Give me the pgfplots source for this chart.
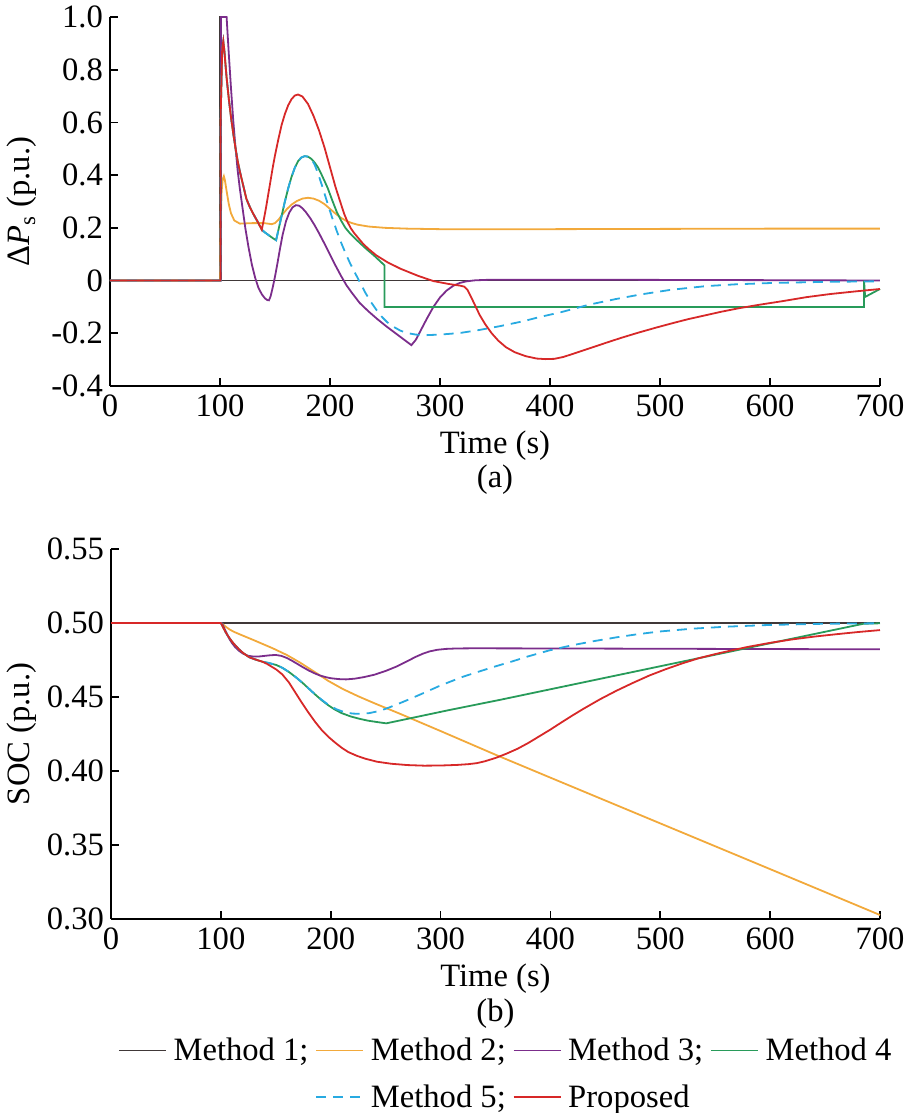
\documentclass[border=0pt]{standalone}
\usepackage{fontspec}
\setmainfont{Liberation Serif}
\usepackage{pgfplots}
\pgfplotsset{compat=1.18}
\definecolor{cMa}{RGB}{64,56,56}
\definecolor{cMb}{RGB}{242,169,59}
\definecolor{cMc}{RGB}{123,45,139}
\definecolor{cMd}{RGB}{40,155,90}
\definecolor{cMe}{RGB}{40,170,225}
\definecolor{cMf}{RGB}{215,40,40}
\newcommand{\fs}{\fontsize{16.3}{19.5}\selectfont}
\pgfplotsset{
  myaxis/.style={
    scale only axis,
    axis x line*=bottom, axis y line*=left,
    axis line style={-, line width=0.9pt, black},
    tick align=inside, major tick length=4pt,
    tick style={black, line width=0.9pt},
    xmin=0, xmax=700,
    xtick={0,100,200,300,400,500,600,700},
    xticklabels={0,100,200,300,400,500,600,700},
    tick label style={font=\fs},
    xticklabel style={yshift=-0.8pt},
    label style={font=\fs},
    clip=false,
    every axis plot/.append style={line width=0.9pt},
    xlabel={Time (s)},
    xlabel style={at={(axis description cs:0.5,0)}, anchor=base, yshift=-34pt},
  }
}
\begin{document}
\begin{tikzpicture}
\path[use as bounding box] (0,0) rectangle (453pt,556.5pt);
% ---------------- (a) ----------------
\begin{axis}[myaxis, at={(55pt,363.5pt)}, anchor=south west,
  width=385pt, height=184.5pt,
  ymin=-0.4, ymax=1.0,
  ytick={-0.4,-0.2,0,0.2,0.4,0.6,0.8,1.0},
  yticklabels={-0.4,-0.2,0,0.2,0.4,0.6,0.8,1.0},
  ylabel={Δ\textit{P}\textsubscript{s} (p.u.)},
  ylabel style={at={(axis description cs:-0.1143,0.5)}, anchor=center},
]
% Method 1
\addplot[cMa] coordinates {(0,0)(100,0)(100,1.0)(101,1.0)(101,0)(700,0)};
% Method 2
\addplot[cMb] coordinates {(0,0)(100,0)(100.5,0.2)(101.5,0.34)(102.5,0.385)(103.5,0.396)(104.5,0.38)(106,0.34)(108,0.29)(110,0.255)(113,0.228)(118,0.216)(130,0.218)(140,0.218)(147,0.214)(150,0.218)(153,0.23)(157,0.252)(161,0.272)(165,0.288)(170,0.302)(175,0.311)(180,0.314)(185,0.311)(190,0.303)(195,0.29)(200,0.272)(205,0.254)(210,0.238)(215,0.226)(220,0.218)(225,0.212)(235,0.205)(250,0.2)(270,0.197)(300,0.195)(400,0.195)(500,0.196)(600,0.197)(700,0.197)};
% Method 3
\addplot[cMc] coordinates {(0,0)(101,0)(101,1.0)(106,1.0)(107,0.93)(108,0.86)(110,0.73)(112,0.61)(114,0.51)(116,0.42)(118,0.35)(120,0.29)(123,0.2)(126,0.125)(129,0.06)(132,0.01)(135,-0.028)(138,-0.052)(141,-0.068)(143,-0.074)(144.5,-0.075)(146,-0.06)(148,-0.025)(150,0.015)(152,0.06)(154.5,0.12)(157,0.175)(160,0.225)(163,0.258)(166,0.278)(169,0.286)(172,0.284)(175,0.274)(178,0.26)(182,0.237)(186,0.21)(190,0.18)(195,0.14)(200,0.098)(205,0.057)(210,0.018)(215,-0.018)(220,-0.047)(227,-0.085)(235,-0.117)(243,-0.146)(251,-0.173)(258,-0.195)(266,-0.22)(274,-0.245)(278,-0.225)(283,-0.185)(288,-0.145)(294,-0.1)(300,-0.064)(306,-0.038)(312,-0.02)(318,-0.009)(324,-0.003)(332,0.001)(345,0.003)(450,0.003)(550,0.002)(650,0.001)(700,0)};
% Method 4
\addplot[cMd] coordinates {(0,0)(100.5,0)(100.5,0.6)(102,0.88)(103,0.908)(104,0.87)(105,0.82)(106,0.77)(108,0.69)(110,0.62)(112,0.56)(114,0.505)(116,0.455)(118,0.415)(120,0.38)(122,0.345)(124,0.31)(127,0.28)(130,0.255)(134,0.225)(138,0.193)(141,0.182)(145,0.17)(148,0.161)(151,0.153)(153,0.19)(156,0.245)(159,0.3)(162,0.35)(165,0.393)(168,0.428)(171,0.453)(174,0.467)(177,0.472)(180,0.47)(183,0.462)(186,0.448)(189,0.43)(192,0.405)(195,0.378)(198,0.35)(202,0.305)(206,0.262)(210,0.228)(214,0.2)(218,0.18)(222,0.163)(227,0.143)(233,0.12)(240,0.095)(249.5,0.058)(249.5,-0.1)(685.5,-0.1)(685.5,0.0)(686.5,-0.062)(700,-0.032)};
% Method 5
\addplot[cMe, dash pattern=on 5pt off 3.5pt] coordinates {(0,0)(100.5,0)(100.5,0.6)(102,0.88)(103,0.908)(104,0.87)(105,0.82)(106,0.77)(108,0.69)(110,0.62)(112,0.56)(114,0.505)(116,0.455)(118,0.415)(120,0.38)(122,0.345)(124,0.31)(127,0.28)(130,0.255)(134,0.225)(138,0.193)(141,0.182)(145,0.17)(148,0.161)(151,0.153)(153,0.19)(156,0.245)(159,0.3)(162,0.35)(165,0.393)(168,0.428)(171,0.453)(174,0.467)(177,0.472)(180,0.47)(183,0.462)(186,0.44)(189,0.408)(192,0.37)(195,0.33)(198,0.29)(202,0.238)(206,0.19)(210,0.145)(214,0.105)(218,0.068)(222,0.035)(227,-0.005)(232,-0.045)(237,-0.08)(242,-0.11)(247,-0.137)(252,-0.158)(258,-0.176)(264,-0.19)(270,-0.199)(278,-0.205)(288,-0.207)(300,-0.205)(318,-0.199)(335,-0.188)(354.5,-0.173)(375,-0.155)(391,-0.138)(410,-0.12)(436,-0.091)(460,-0.07)(482,-0.053)(510,-0.035)(542,-0.021)(570,-0.014)(603,-0.009)(650,-0.005)(694,-0.003)(700,-0.003)};
% Proposed
\addplot[cMf] coordinates {(0,0)(100.5,0)(100.5,0.6)(102,0.88)(103,0.908)(104,0.87)(105,0.82)(106,0.77)(108,0.69)(110,0.62)(112,0.56)(114,0.505)(116,0.455)(118,0.415)(120,0.38)(122,0.345)(124,0.31)(127,0.28)(130,0.255)(134,0.225)(138,0.193)(140,0.235)(142,0.28)(144,0.33)(146,0.38)(148,0.43)(150,0.475)(153,0.535)(156,0.59)(159,0.632)(162,0.665)(165,0.688)(168,0.702)(171,0.706)(175,0.698)(180,0.67)(185,0.625)(190,0.57)(195,0.505)(200,0.43)(205,0.355)(210,0.29)(213,0.252)(216,0.222)(219,0.198)(222,0.18)(226,0.16)(230,0.14)(235,0.12)(242,0.096)(252,0.07)(264,0.045)(280,0.018)(294,-0.002)(308,-0.013)(318,-0.019)(322,-0.023)(325,-0.035)(328,-0.06)(332,-0.095)(336,-0.13)(341,-0.165)(347,-0.2)(353,-0.228)(360,-0.253)(368,-0.272)(378,-0.287)(388,-0.296)(396,-0.298)(404,-0.297)(412,-0.29)(421,-0.278)(436,-0.257)(451,-0.236)(465,-0.217)(480,-0.198)(496,-0.179)(512,-0.161)(526,-0.146)(540,-0.133)(556,-0.118)(573,-0.104)(590,-0.092)(610,-0.079)(633,-0.063)(655,-0.051)(678,-0.041)(700,-0.032)};
\node[anchor=base, font=\fs, yshift=-51pt] at (axis description cs:0.5,0) {(a)};
\end{axis}
% ---------------- (b) ----------------
\begin{axis}[myaxis, at={(55.5pt,97pt)}, anchor=south west,
  width=384.5pt, height=185pt,
  ymin=0.3, ymax=0.55,
  ytick={0.3,0.35,0.4,0.45,0.5,0.55},
  yticklabels={0.30,0.35,0.40,0.45,0.50,0.55},
  ylabel={SOC (p.u.)},
  ylabel style={at={(axis description cs:-0.1157,0.5)}, anchor=center},
  legend columns=4, legend cell align=left,
  legend style={draw=none, fill=none, font=\fs, at={(axis description cs:0.0091,-0.310)}, anchor=north west, inner sep=0pt, outer sep=0pt, row sep=6.6pt, column sep=1.4pt, nodes={inner sep=2pt}},
  legend image code/.code={\draw[#1, line width=0.9pt] (0pt,0pt) -- (23.5pt,0pt);},
]
\addlegendimage{color=cMa}
\addlegendentry{Method 1;}
\addlegendimage{color=cMb}
\addlegendentry{Method 2;}
\addlegendimage{color=cMc}
\addlegendentry{Method 3;}
\addlegendimage{color=cMd}
\addlegendentry{Method 4}
\addlegendimage{empty legend}
\addlegendentry{}
\addlegendimage{color=cMe, dash pattern=on 5pt off 3.5pt}
\addlegendentry{Method 5;}
\addlegendimage{color=cMf}
\addlegendentry{Proposed}
% Method 1
\addplot[cMa, forget plot] coordinates {(0,0.5)(700,0.5)};
% Method 2
\addplot[cMb, forget plot] coordinates {(0,0.5)(100,0.5)(101,0.4996)(103,0.4984)(105,0.4972)(108,0.4956)(112,0.494)(118,0.4921)(130,0.4884)(147,0.483)(160,0.4784)(172,0.4733)(185,0.4671)(198,0.4608)(211,0.4554)(225,0.4505)(240,0.4457)(262,0.439)(300,0.427)(350,0.411)(400,0.3955)(500,0.3646)(600,0.3337)(700,0.3027)};
% Method 3
\addplot[cMc, forget plot] coordinates {(0,0.5)(100,0.5)(101,0.4998)(103,0.4966)(106,0.4919)(108,0.489)(110,0.4866)(113,0.4837)(116,0.4815)(120,0.4794)(125,0.4778)(130,0.4773)(135,0.4774)(140,0.4778)(145,0.4782)(150,0.4784)(155,0.4778)(160,0.4764)(165,0.4744)(170,0.4722)(175,0.47)(180,0.4679)(185,0.4661)(190,0.4646)(195,0.4635)(200,0.4627)(207,0.4621)(214,0.4619)(222,0.4624)(230,0.4634)(240,0.4651)(250,0.4676)(260,0.4706)(270,0.4743)(277,0.477)(284,0.4793)(290,0.4808)(297,0.4819)(305,0.4825)(315,0.4828)(330,0.4829)(400,0.4828)(550,0.4825)(700,0.4822)};
% Method 4
\addplot[cMd, forget plot] coordinates {(0,0.5)(100,0.5)(102,0.4972)(104,0.4943)(106,0.4918)(108,0.4896)(110,0.4876)(112,0.4858)(114,0.4842)(116,0.4826)(118,0.4812)(120,0.4799)(123,0.4783)(126,0.4768)(132,0.4752)(138,0.4738)(144,0.4729)(150.6,0.4716)(156,0.4697)(162,0.4669)(168,0.4635)(174,0.4598)(180,0.4557)(186,0.4516)(192,0.4477)(198,0.4443)(204,0.4414)(210,0.4391)(218,0.4369)(226,0.4353)(234,0.434)(242,0.4331)(250.6,0.4322)(308,0.4412)(353.6,0.448)(520,0.4739)(685,0.4995)(700,0.4998)};
% Method 5
\addplot[cMe, dash pattern=on 5pt off 3.5pt, forget plot] coordinates {(0,0.5)(100,0.5)(102,0.4972)(104,0.4943)(106,0.4918)(108,0.4896)(110,0.4876)(112,0.4858)(114,0.4842)(116,0.4826)(118,0.4812)(120,0.4799)(123,0.4783)(126,0.4768)(132,0.4752)(138,0.4738)(144,0.4729)(150.6,0.4716)(156,0.4697)(162,0.4669)(168,0.4635)(174,0.4598)(180,0.4557)(186,0.4516)(190,0.4492)(195,0.4463)(200,0.4438)(205,0.4418)(210,0.4404)(215,0.4394)(220,0.4388)(227,0.4386)(235,0.4391)(242,0.4402)(250,0.442)(260,0.4449)(270,0.448)(280,0.4512)(290,0.4545)(300,0.4578)(320,0.4636)(335,0.4672)(350,0.4707)(365,0.474)(380,0.4775)(399,0.4815)(420,0.485)(440,0.4878)(460,0.4903)(480,0.4925)(500,0.4943)(530,0.4962)(560,0.4975)(600,0.4987)(650,0.4995)(700,0.4998)};
% Proposed
\addplot[cMf, forget plot] coordinates {(0,0.5)(100,0.5)(102,0.4972)(104,0.4943)(106,0.4918)(108,0.4896)(110,0.4876)(112,0.4858)(114,0.4842)(116,0.4826)(118,0.4812)(120,0.4799)(123,0.4783)(126,0.4768)(132,0.4752)(138,0.4738)(142,0.4724)(146,0.4706)(150.6,0.4685)(156,0.4652)(162,0.4598)(168,0.4528)(174,0.4458)(180,0.4392)(186,0.433)(192,0.4275)(198,0.423)(204,0.4192)(210,0.4157)(216,0.4128)(224,0.4102)(232,0.4082)(242,0.4063)(255,0.4049)(270,0.404)(285,0.4036)(300,0.4037)(315,0.4041)(325,0.4046)(333,0.4053)(340,0.4065)(350,0.4088)(360,0.4117)(370,0.415)(380,0.419)(390,0.4235)(400,0.428)(410,0.4328)(420,0.4375)(430,0.442)(445,0.4484)(460,0.4542)(475,0.4595)(490,0.4645)(505,0.4688)(520,0.4727)(535,0.4762)(550,0.479)(565,0.4815)(580,0.4839)(600,0.4866)(620,0.4889)(640,0.4908)(660,0.4924)(680,0.4939)(700,0.4952)};
\node[anchor=base, font=\fs, yshift=-51pt] at (axis description cs:0.5,0) {(b)};
\end{axis}
\end{tikzpicture}
\end{document}
